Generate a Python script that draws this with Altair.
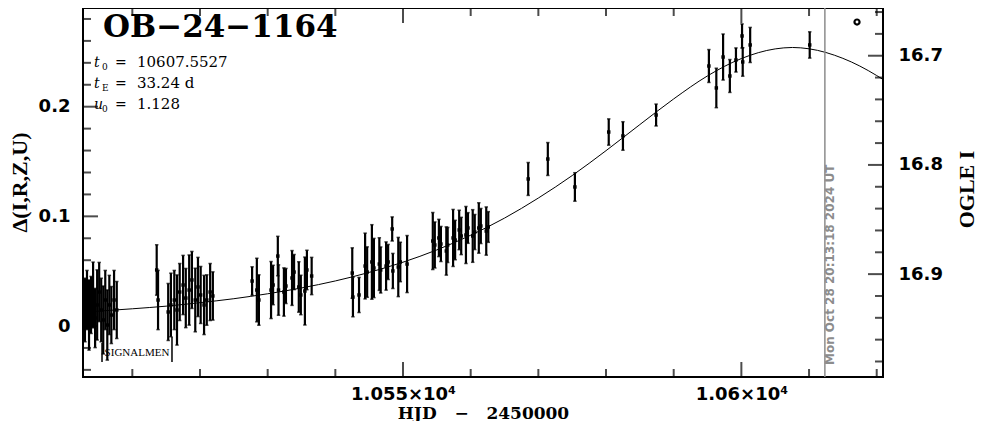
import altair as alt
import pandas as pd

# ---------------- photometry (HJD-2450000, delta mag, error) ----------------
hjd = [
    10503.0, 10503.3, 10503.6, 10503.9, 10504.2, 10504.5, 10504.8, 10505.1, 10505.4, 10505.7, 10506.0, 10506.3, 10506.6, 10506.9, 10507.3, 10507.7,
    10513.6, 10513.8, 10515.3, 10515.7, 10516.2, 10516.6, 10517.0, 10517.5, 10517.9, 10518.4, 10518.8, 10519.3, 10519.7, 10520.1, 10520.6, 10521.0, 10521.5, 10521.9,
    10527.7, 10528.4, 10528.7, 10530.5, 10530.8, 10531.5, 10531.6, 10532.4, 10532.7, 10533.6, 10533.9, 10534.6, 10534.9, 10535.5, 10535.8, 10536.5,
    10542.5, 10542.6, 10543.5, 10544.4, 10544.7, 10545.4, 10545.7, 10546.5, 10546.7, 10547.5, 10547.8, 10548.4, 10548.5, 10549.3, 10549.6, 10550.6,
    10554.4, 10554.7, 10555.3, 10555.6, 10556.4, 10556.6, 10557.4, 10557.7, 10558.3, 10558.6, 10559.3, 10559.6, 10560.3, 10560.6, 10561.2, 10561.5, 10562.3, 10562.6,
    10568.5, 10571.4, 10575.4, 10580.4, 10582.5, 10587.4,
    10595.2, 10596.3, 10597.3, 10598.3, 10599.2, 10600.1, 10600.2, 10601.3, 10610.1,
]
dmag = [
    0.0146, 0.0237, 0.0100, 0.0192, 0.0283, 0.0073, 0.0192, 0.0310, 0.0146, 0.0055, 0.0237, 0.0009, 0.0192, 0.0100, 0.0237, 0.0146,
    0.0511, 0.0237, 0.0128, 0.0192, 0.0237, 0.0146, 0.0310, 0.0374, 0.0255, 0.0328, 0.0420, 0.0237, 0.0356, 0.0283, 0.0192, 0.0237, 0.0310, 0.0274,
    0.0410, 0.0328, 0.0237, 0.0328, 0.0374, 0.0638, 0.0328, 0.0310, 0.0365, 0.0438, 0.0492, 0.0356, 0.0283, 0.0319, 0.0511, 0.0456,
    0.0483, 0.0264, 0.0283, 0.0547, 0.0492, 0.0584, 0.0529, 0.0565, 0.0511, 0.0547, 0.0584, 0.0885, 0.0502, 0.0538, 0.0584, 0.0565,
    0.0775, 0.0739, 0.0803, 0.0748, 0.0684, 0.0739, 0.0803, 0.0784, 0.0876, 0.0821, 0.0830, 0.0894, 0.0821, 0.0857, 0.0894, 0.0912, 0.0866, 0.0903,
    0.1341, 0.1523, 0.1268, 0.1769, 0.1733, 0.1924,
    0.2371, 0.2171, 0.2453, 0.2280, 0.2426, 0.2645, 0.2408, 0.2563, 0.2563,
]
dmag_err = [
    0.029, 0.027, 0.032, 0.026, 0.030, 0.027, 0.032, 0.027, 0.029, 0.031, 0.027, 0.032, 0.027, 0.026, 0.027, 0.026,
    0.023, 0.027, 0.026, 0.029, 0.027, 0.032, 0.026, 0.027, 0.027, 0.032, 0.026, 0.029, 0.027, 0.026, 0.027, 0.023, 0.026, 0.022,
    0.013, 0.029, 0.023, 0.026, 0.018, 0.018, 0.023, 0.022, 0.016, 0.025, 0.016, 0.023, 0.018, 0.031, 0.018, 0.017,
    0.023, 0.018, 0.016, 0.030, 0.023, 0.034, 0.027, 0.024, 0.021, 0.022, 0.016, 0.011, 0.016, 0.027, 0.018, 0.026,
    0.026, 0.021, 0.017, 0.016, 0.022, 0.016, 0.026, 0.018, 0.018, 0.017, 0.026, 0.014, 0.024, 0.016, 0.023, 0.016, 0.022, 0.014,
    0.015, 0.015, 0.013, 0.012, 0.013, 0.010,
    0.015, 0.018, 0.021, 0.015, 0.011, 0.011, 0.013, 0.016, 0.012,
]

# ---------------- model curve ----------------
model_hjd = [10502.71, 10510, 10515, 10520, 10525, 10530, 10535, 10540, 10545, 10550, 10555,
             10560, 10565, 10570, 10575, 10580, 10585, 10590, 10595, 10600, 10605, 10607.55,
             10610, 10615, 10620, 10620.93]
model_dmag = [0.0126, 0.0157, 0.0181, 0.0213, 0.0249, 0.0294, 0.0347, 0.0411, 0.0489, 0.0582, 0.0694,
              0.0828, 0.0984, 0.1167, 0.1372, 0.1599, 0.1837, 0.2071, 0.2281, 0.2439, 0.2527, 0.2540,
              0.2528, 0.2441, 0.2284, 0.2248]

# ---------------- axes ----------------
x_range = [10502.71, 10620.93]
y_range = [-0.0465, 0.2900]
i_range = [16.6563, 16.9942]
x_major = [10550, 10600]
x_minor = [10510, 10520, 10530, 10540, 10560, 10570, 10580, 10590, 10610, 10620]
y_major = [0.0, 0.1, 0.2]
y_minor = [-0.04, -0.02, 0.02, 0.04, 0.06, 0.08, 0.12, 0.14, 0.16, 0.18, 0.22, 0.24, 0.26, 0.28]
i_major = [16.7, 16.8, 16.9]
i_minor = [16.66, 16.68, 16.72, 16.74, 16.76, 16.78, 16.82, 16.84, 16.86, 16.88, 16.92, 16.94, 16.96, 16.98]

# ---------------- annotations ----------------
now_hjd = 10612.34
now_text = "Mon Oct 28 20:13:18 2024 UT"
now_y = -0.0356
event_name = "OB\u221224\u22121164"
event_pos = (10505.67, 0.2636)
par_sym = ["t", "t", "u"]
par_sub = ["0", "E", "0"]
par_val = ["10607.5527", "33.24 d", "1.128"]
par_y = [0.2362, 0.2171, 0.1979]
par_sub_y = [0.2335, 0.2143, 0.1952]
par_x_sym, par_x_sub, par_x_eq, par_x_val = 10504.34, 10505.52, 10507.44, 10510.69
marker_pos = (10617.09, 0.2772)
sig_text = "SIGNALMEN"
sig_pos = (10510.69, -0.0246)
sig_brackets_x = [10505.52, 10515.86]
sig_brackets_top = [-0.0155, -0.0100]
sig_brackets_bot = [-0.0328, -0.0328]

# ---------------- scales / axes ----------------
XS = alt.Scale(domain=x_range, nice=False, zero=False)
YS = alt.Scale(domain=y_range, nice=False, zero=False)
IS = alt.Scale(domain=i_range, nice=False, zero=False, reverse=True)

X_AXIS = alt.Axis(values=x_major, ticks=False, domain=False, grid=False,
                  labelExpr="datum.value == 10550 ? '1.055×10⁴' : '1.06×10⁴'",
                  labelFont="DejaVu Sans", labelFontWeight="bold", labelFontSize=18,
                  labelColor="black", labelPadding=8, labelFlush=False,
                  title="HJD\u00a0\u00a0\u00a0\u2212\u00a0\u00a0\u00a02450000", titleFont="DejaVu Serif",
                  titleFontWeight="bold",
                  titleFontSize=17, titleColor="black", titleY=41, titleBaseline="alphabetic")
Y_AXIS = alt.Axis(values=y_major, ticks=False, domain=False, grid=False,
                  labelExpr="datum.value == 0 ? '0' : format(datum.value, '.1f')",
                  labelFont="DejaVu Sans", labelFontWeight="bold", labelFontSize=18,
                  labelColor="black", labelPadding=13, labelFlush=False,
                  title="\u0394(I,R,Z,U)", titleFont="Liberation Serif", titleFontWeight="bold",
                  titleFontSize=22, titleColor="black", titleAngle=270, titleX=-64, titleY=174,
                  titleAlign="center", titleBaseline="middle")
I_AXIS = alt.Axis(orient="right", values=i_major, ticks=False, domain=False, grid=False,
                  format=".1f", labelFont="DejaVu Sans", labelFontWeight="bold", labelFontSize=18,
                  labelColor="black", labelPadding=15, labelFlush=False,
                  title="OGLE I", titleFont="Liberation Serif", titleFontWeight="bold",
                  titleFontSize=22, titleColor="black", titleAngle=270, titleX=83, titleY=181,
                  titleAlign="center", titleBaseline="middle")


def X(f):
    return alt.X(f, type="quantitative", scale=XS, axis=X_AXIS)


def Y(f):
    return alt.Y(f, type="quantitative", scale=YS, axis=Y_AXIS)


df = pd.DataFrame({"hjd": hjd, "d": dmag, "e": dmag_err})
df["lo"] = df["d"] - df["e"]
df["hi"] = df["d"] + df["e"]
model = pd.DataFrame({"hjd": model_hjd, "d": model_dmag})

bars = alt.Chart(df).mark_rule(color="black", strokeWidth=2.2).encode(
    x=X("hjd"), y=Y("lo"), y2="hi")
cap_lo = alt.Chart(df).mark_tick(color="black", orient="horizontal", size=3.5, thickness=1.5).encode(
    x=X("hjd"), y=Y("lo"))
cap_hi = alt.Chart(df).mark_tick(color="black", orient="horizontal", size=3.5, thickness=1.5).encode(
    x=X("hjd"), y=Y("hi"))
pts = alt.Chart(df).mark_square(color="black", size=12, opacity=1).encode(x=X("hjd"), y=Y("d"))
curve = alt.Chart(model).mark_line(color="black", strokeWidth=1, interpolate="monotone").encode(
    x=X("hjd"), y=Y("d"))

now_df = pd.DataFrame({"x": [now_hjd], "y": [now_y], "t": [now_text]})
now_rule = alt.Chart(now_df).mark_rule(color="#8c8c8c", strokeWidth=1.5).encode(x=X("x"))
now_lbl = alt.Chart(now_df).mark_text(angle=270, align="left", baseline="top", font="DejaVu Sans",
                                      fontWeight="bold", fontSize=12, color="#8c8c8c").encode(
    x=X("x"), y=Y("y"), text="t")

# ticks (inward)
xt_maj = pd.DataFrame({"x": x_major, "yb": y_range[0], "yt": y_range[1]})
xt_min = pd.DataFrame({"x": x_minor, "yb": y_range[0], "yt": y_range[1]})
yt_maj = pd.DataFrame({"y": y_major, "xl": x_range[0]})
yt_min = pd.DataFrame({"y": y_minor, "xl": x_range[0]})


def vtick(d, yf, size, off):
    return alt.Chart(d).mark_tick(color="black", orient="vertical", size=size, thickness=2,
                                  yOffset=off).encode(x=X("x"), y=Y(yf))


ticks = [
    vtick(xt_maj, "yb", 15, -7.5), vtick(xt_min, "yb", 8, -4),
    vtick(xt_maj, "yt", 15, 7.5), vtick(xt_min, "yt", 8, 4),
    alt.Chart(yt_maj).mark_tick(color="black", orient="horizontal", size=15, thickness=2, xOffset=7.5)
    .encode(x=X("xl"), y=Y("y")),
    alt.Chart(yt_min).mark_tick(color="black", orient="horizontal", size=8, thickness=2, xOffset=4)
    .encode(x=X("xl"), y=Y("y")),
]

# text annotations
title_df = pd.DataFrame({"x": [event_pos[0]], "y": [event_pos[1]], "t": [event_name]})
title_txt = alt.Chart(title_df).mark_text(align="left", baseline="alphabetic", font="DejaVu Serif",
                                          fontWeight="bold", fontSize=31, color="black").encode(
    x=X("x"), y=Y("y"), text="t")
sym_df = pd.DataFrame({"x": par_x_sym, "y": par_y, "t": par_sym})
sym_txt = alt.Chart(sym_df).mark_text(align="left", baseline="alphabetic", font="DejaVu Serif",
                                      fontStyle="italic", fontSize=14, color="black").encode(
    x=X("x"), y=Y("y"), text="t")
sub_df = pd.DataFrame({"x": par_x_sub, "y": par_sub_y, "t": par_sub})
sub_txt = alt.Chart(sub_df).mark_text(align="left", baseline="alphabetic", font="DejaVu Serif",
                                      fontSize=9, color="black").encode(
    x=X("x"), y=Y("y"), text="t")
eq_df = pd.DataFrame({"x": par_x_eq, "y": par_y, "t": ["="] * 3})
eq_txt = alt.Chart(eq_df).mark_text(align="left", baseline="alphabetic", font="DejaVu Serif",
                                    fontSize=14, color="black").encode(
    x=X("x"), y=Y("y"), text="t")
val_df = pd.DataFrame({"x": par_x_val, "y": par_y, "t": par_val})
val_txt = alt.Chart(val_df).mark_text(align="left", baseline="alphabetic", font="DejaVu Serif",
                                      fontSize=15, color="black").encode(
    x=X("x"), y=Y("y"), text="t")

mark_df = pd.DataFrame({"x": [marker_pos[0]], "y": [marker_pos[1]]})
marker = alt.Chart(mark_df).mark_point(shape="circle", filled=False, size=26, strokeWidth=2.2,
                                       color="black", opacity=1).encode(x=X("x"), y=Y("y"))

sig_df = pd.DataFrame({"x": [sig_pos[0]], "y": [sig_pos[1]], "t": [sig_text]})
sig_txt = alt.Chart(sig_df).mark_text(align="center", baseline="middle", font="Liberation Serif",
                                      fontSize=11, color="black").encode(
    x=X("x"), y=Y("y"), text="t")
br_df = pd.DataFrame({"x": sig_brackets_x, "y": sig_brackets_top, "y2": sig_brackets_bot})
sig_br = alt.Chart(br_df).mark_rule(color="black", strokeWidth=1.5).encode(
    x=X("x"), y=Y("y"), y2="y2")

main = alt.layer(curve, bars, cap_lo, cap_hi, pts, now_rule, now_lbl, *ticks, title_txt,
                 sym_txt, sub_txt, eq_txt, val_txt, marker, sig_txt, sig_br)

# right-hand OGLE I axis
it_maj = pd.DataFrame({"i": i_major, "xr": x_range[1]})
it_min = pd.DataFrame({"i": i_minor, "xr": x_range[1]})
right_maj = alt.Chart(it_maj).mark_tick(color="black", orient="horizontal", size=15, thickness=2,
                                        xOffset=-7.5).encode(
    x=X("xr"), y=alt.Y("i", type="quantitative", scale=IS, axis=I_AXIS))
right_min = alt.Chart(it_min).mark_tick(color="black", orient="horizontal", size=8, thickness=2,
                                        xOffset=-4).encode(
    x=X("xr"), y=alt.Y("i", type="quantitative", scale=IS, axis=I_AXIS))
right = alt.layer(right_maj, right_min)

chart = alt.layer(main, right).resolve_scale(y="independent").properties(
    width=800, height=369,
    padding={"left": 75, "top": 0, "right": 95, "bottom": 44},
    autosize=alt.AutoSizeParams(type="none"),
    background="white",
).configure_view(stroke="black", strokeWidth=2)

chart.save("out.html", embed_options={"renderer": "svg", "actions": False})
